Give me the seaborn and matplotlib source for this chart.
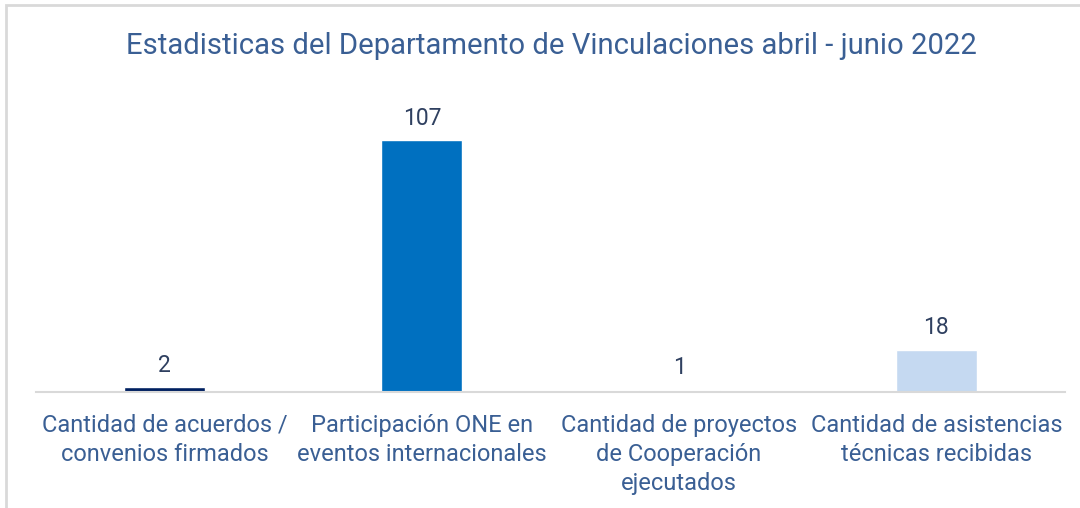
import matplotlib
matplotlib.use("Agg")
import matplotlib.pyplot as plt
import seaborn as sns
import pandas as pd
from matplotlib.patches import Rectangle

categories = [
    "Cantidad de acuerdos /\nconvenios firmados",
    "Participación ONE en\neventos internacionales",
    "Cantidad de proyectos\nde Cooperación\nejecutados",
    "Cantidad de asistencias\ntécnicas recibidas",
]
values = [2, 107, 1, 18]
colors = ["#002060", "#0070C0", "#8EB4E3", "#C5D9F1"]
title = "Estadisticas del Departamento de Vinculaciones abril - junio 2022"

sns.set_theme(style="white")
plt.rcParams["font.family"] = ["Roboto", "DejaVu Sans"]

df = pd.DataFrame({"cat": categories, "val": values})

fig = plt.figure(figsize=(10.8, 5.08), dpi=100)
fig.patch.set_facecolor("white")
# outer chart border (light gray)
fig.patches.append(Rectangle((6 / 1080, -0.1), 1.2, (508 - 5) / 508 + 0.1,
                             transform=fig.transFigure, fill=False,
                             edgecolor="#D9D9D9", linewidth=2))

ax = fig.add_axes([36 / 1080, 1 - 392 / 508, (1065 - 36) / 1080, (392 - 85) / 508])
sns.barplot(data=df, x="cat", y="val", hue="cat", palette=colors,
            width=0.315, legend=False, ax=ax, saturation=1)

ax.set_ylim(0, 307 / (252 / 107))
ax.set_xlim(-0.5, 3.5)
for c in ax.containers:
    ax.bar_label(c, fmt="%d", padding=7.5, fontsize=16.5, color="#2F4060")

ax.set_xlabel("")
ax.set_ylabel("")
ax.set_yticks([])
ax.tick_params(axis="x", length=0, pad=15.5, labelsize=17, labelcolor="#3A5F94")
for lbl in ax.get_xticklabels():
    lbl.set_linespacing(1.35)
for s in ["top", "left", "right"]:
    ax.spines[s].set_visible(False)
ax.spines["bottom"].set_color("#D9D9D9")
ax.spines["bottom"].set_linewidth(1.5)

fig.text(551 / 1080, 1 - 46 / 508, title, ha="center", va="center",
         fontsize=21.1, color="#3A5F94")

fig.savefig("out.png", dpi=100)
